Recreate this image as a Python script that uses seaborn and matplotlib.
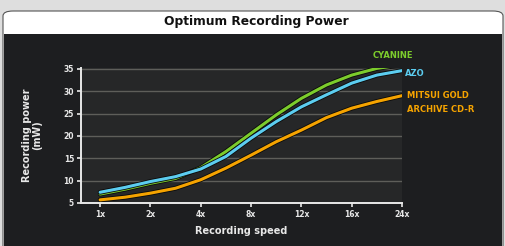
import matplotlib
matplotlib.use("Agg")
import matplotlib.pyplot as plt
import matplotlib.patheffects as pe
from matplotlib.patches import FancyBboxPatch, Rectangle
import pandas as pd
import seaborn as sns

# values (half-step positions along the speed axis)
speed_pos = [0, 0.5, 1, 1.5, 2, 2.5, 3, 3.5, 4, 4.5, 5, 5.5, 6]
speed_labels = ['1x', '2x', '4x', '8x', '12x', '16x', '24x']
cyanine = [7.0, 8.1, 9.4, 10.5, 12.9, 16.5, 20.6, 24.7, 28.4, 31.4, 33.6, 35.1, 35.9]
azo = [7.4, 8.5, 9.8, 10.9, 12.6, 15.4, 19.5, 23.2, 26.5, 29.2, 31.8, 33.6, 34.6]
mitsui = [5.7, 6.3, 7.2, 8.3, 10.2, 12.8, 15.7, 18.7, 21.3, 24.1, 26.2, 27.7, 29.0]

colors = {'CYANINE': '#7ccc2c', 'AZO': '#5ccdf0', 'MITSUI': '#f5a300'}

df = pd.concat([
    pd.DataFrame({'pos': speed_pos, 'power': cyanine, 'dye': 'CYANINE'}),
    pd.DataFrame({'pos': speed_pos, 'power': azo, 'dye': 'AZO'}),
    pd.DataFrame({'pos': speed_pos, 'power': mitsui, 'dye': 'MITSUI'}),
])

sns.set_style("dark")
plt.rcParams['font.family'] = ['DejaVu Sans']

fig = plt.figure(figsize=(5.06, 2.46), dpi=100)
fig.patch.set_facecolor('#dedede')

# white title box + dark panel (drawn below the axes)
fig.patches.append(FancyBboxPatch((3 / 506, -0.1), 500 / 506, 1.1 - 11 / 246,
                                  boxstyle="round,pad=0,rounding_size=0.02",
                                  transform=fig.transFigure, facecolor='white',
                                  edgecolor='#555555', lw=0.8, zorder=-2))
fig.patches.append(Rectangle((4 / 506, 0), 498 / 506, 1 - 34 / 246,
                             transform=fig.transFigure, facecolor='#1d1e20',
                             edgecolor='none', zorder=-1))
fig.text(0.506, 1 - 22 / 246, "Optimum Recording Power", ha='center', va='center',
         fontsize=8.8, fontweight='bold', color='#111111')

ax = fig.add_axes([81 / 506, 1 - 203 / 246, 321 / 506, (203 - 67.5) / 246])
ax.set_facecolor('#262728')

sns.lineplot(data=df, x='pos', y='power', hue='dye', palette=colors, ax=ax,
             linewidth=2.2, legend=False,
             path_effects=[pe.Stroke(linewidth=3.4, foreground='#0a0a0a'), pe.Normal()])

ax.set_xlim(-0.38, 6.0)
ax.set_ylim(5, 35.3)
ax.set_xticks(range(len(speed_labels)))
ax.set_xticklabels(speed_labels)
ax.set_yticks([5, 10, 15, 20, 25, 30, 35])
ax.grid(axis='y', color='#5e5e5a', lw=1.0)
ax.grid(axis='x', visible=False)
for s in ['top', 'right']:
    ax.spines[s].set_visible(False)
for s in ['left', 'bottom']:
    ax.spines[s].set_color('#e8e8e8')
    ax.spines[s].set_linewidth(1.4)
ax.tick_params(colors='#e8e8e8', labelcolor='#e8e8e8', length=3, width=1.2,
               labelsize=5.5, pad=2, bottom=True, left=True)
for lab in ax.get_xticklabels() + ax.get_yticklabels():
    lab.set_fontweight('bold')

ax.set_xlabel("Recording speed", fontsize=7, fontweight='bold', color='#e8e8e8', labelpad=5)
ax.set_ylabel("")
fig.text(32 / 506, 1 - 135 / 246, "Recording power\n(mW)", rotation=90, ha='center',
         va='center', fontsize=7, fontweight='bold', color='#e8e8e8', linespacing=1.1)

fig.text(373 / 506, 1 - 55 / 246, "CYANINE", color=colors['CYANINE'], fontsize=6,
         fontweight='bold', va='center')
fig.text(405 / 506, 1 - 74 / 246, "AZO", color=colors['AZO'], fontsize=6,
         fontweight='bold', va='center')
fig.text(407 / 506, 1 - 95 / 246, "MITSUI GOLD", color=colors['MITSUI'], fontsize=6,
         fontweight='bold', va='center')
fig.text(407 / 506, 1 - 110 / 246, "ARCHIVE CD-R", color=colors['MITSUI'], fontsize=6,
         fontweight='bold', va='center')

fig.savefig("out.png", dpi=100, facecolor=fig.get_facecolor())
